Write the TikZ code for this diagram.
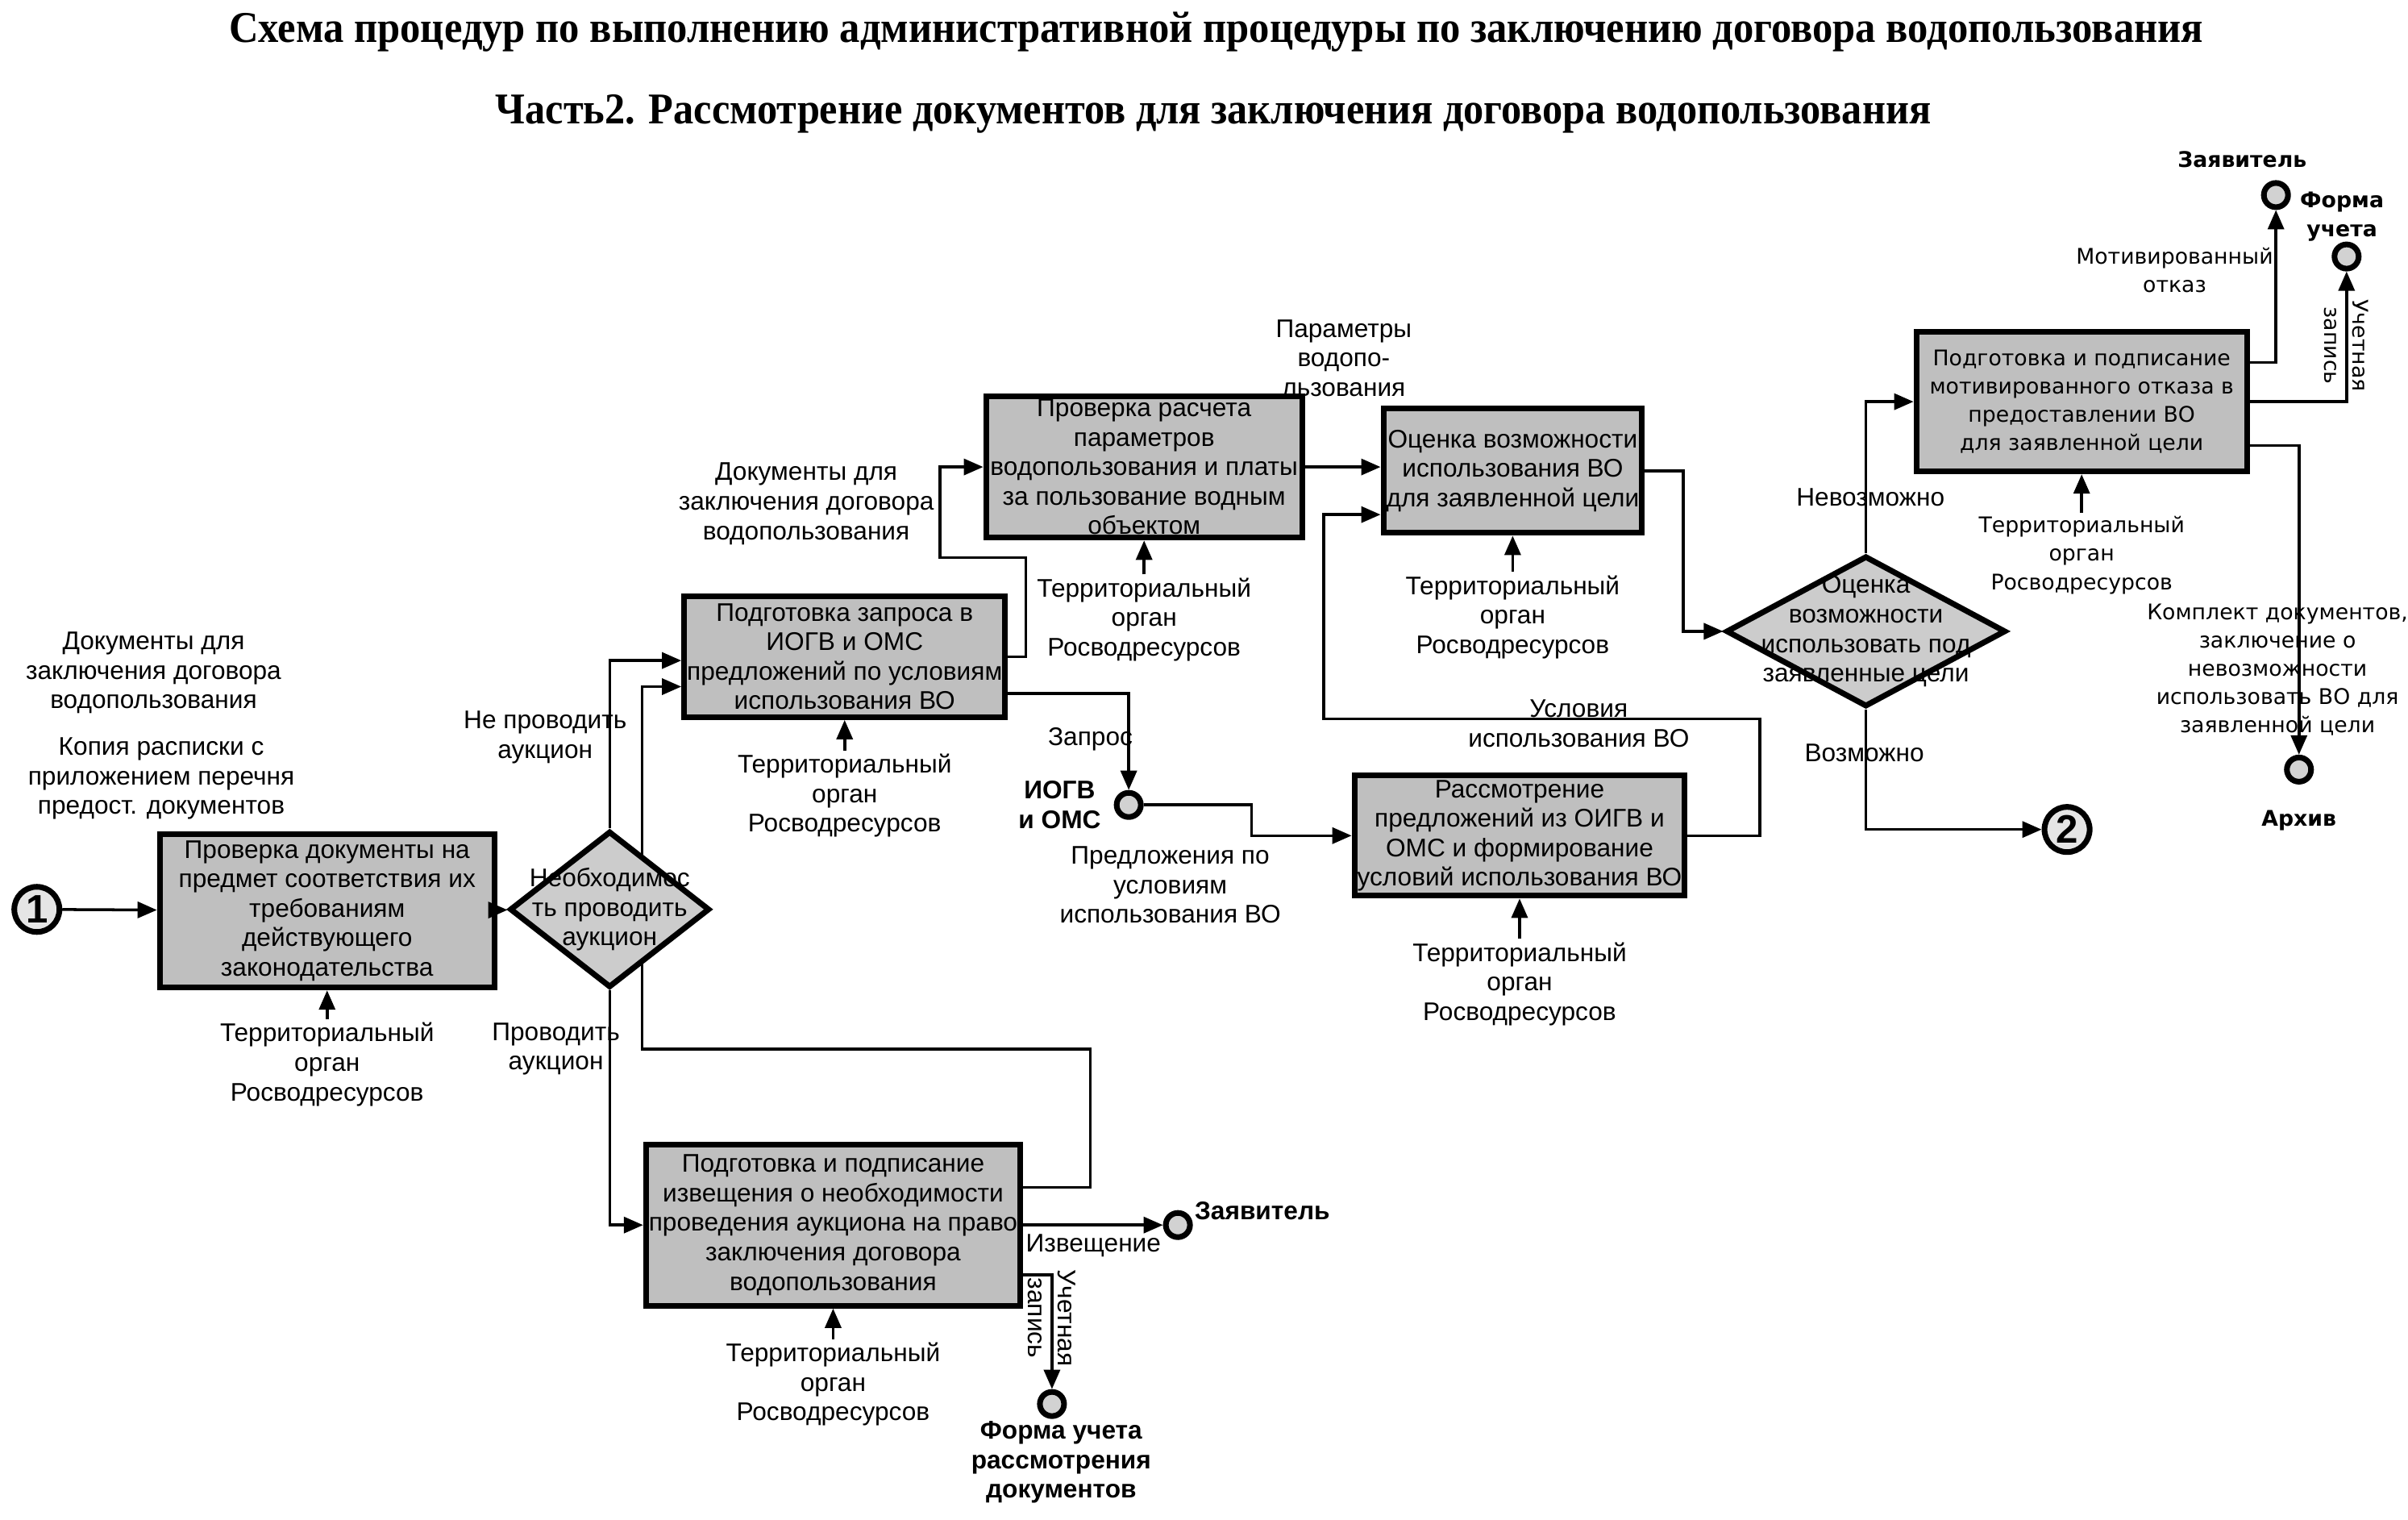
\documentclass[tikz,border=0pt]{standalone}
\usepackage{fontspec}
\setmainfont{Liberation Sans}
\newfontfamily\titlefont{Liberation Serif}
\newfontfamily\widefont{DejaVu Sans}
\usetikzlibrary{shapes.geometric, arrows.meta, positioning, calc, backgrounds}

\begin{document}
\begin{tikzpicture}[
    x=0.01905cm, y=-0.01905cm,
    node distance = 0.38cm,
    box/.style = {rectangle, draw=black, line width=2pt, fill=gray!50, align=center, inner sep=1pt, font=\fontsize{9}{10.4}\selectfont},
    wbox/.style = {box, font=\widefont\fontsize{7.6}{10}\selectfont},
    dia/.style = {diamond, draw=black, line width=2pt, fill=gray!40, inner sep=0pt},
    term/.style = {circle, draw=black, line width=2pt, fill=gray!20, minimum size=0.56cm, inner sep=0pt, font=\bfseries\fontsize{14}{14}\selectfont},
    endp/.style = {circle, draw=black, line width=2pt, fill=gray!35, minimum size=0.3cm, inner sep=0pt},
    lbl/.style = {align=center, inner sep=1pt, font=\fontsize{9}{10.4}\selectfont},
    blbl/.style = {lbl, font=\bfseries\fontsize{9}{10.4}\selectfont},
    wlbl/.style = {lbl, font=\widefont\fontsize{7.6}{10}\selectfont},
    wblbl/.style = {lbl, font=\widefont\bfseries\fontsize{7.6}{10}\selectfont},
    arr/.style = {-{Triangle[length=0.24cm, width=0.2cm]}, line width=1pt}
]
    \useasboundingbox (0,0) rectangle (1568,989);

    % 1. Titles
    \node (title) at (792,21) {\resizebox{24.48cm}{\height}{\titlefont\bfseries\fontsize{15.5}{17}\selectfont Схема процедур по выполнению административной процедуры по заключению договора водопользования}};
    \node (subtitle) at (790,74) {\resizebox{17.8cm}{\height}{\titlefont\bfseries\fontsize{15.5}{17}\selectfont Часть2. Рассмотрение документов для заключения договора водопользования}};

    % 2. Process boxes
    \node [term] (start) at (24,592) {1};
    \node [box, minimum width=4.15cm, minimum height=1.9cm] (check) at (213,593) {Проверка документы на\\предмет соответствия их\\требованиям\\действующего\\законодательства};
    \node [dia, minimum width=2.48cm, minimum height=1.94cm] (auct_q) at (397,592) {};
    \node [lbl] (auct_q_txt) at (auct_q) {Необходимос\\ть проводить\\аукцион};
    \node [box, minimum width=3.89cm, minimum height=1.5cm] (request) at (550,427.5) {Подготовка запроса в\\ИОГВ и ОМС\\предложений по условиям\\использования ВО};
    \node [box, minimum width=3.92cm, minimum height=1.75cm] (calc) at (745,304) {Проверка расчета\\параметров\\водопользования и платы\\за пользование водным\\объектом};
    \node [box, minimum width=3.16cm, minimum height=1.54cm] (assess) at (985,306.5) {Оценка возможности\\использования ВО\\для заявленной цели};
    \node [box, minimum width=3.98cm, minimum height=1.49cm] (proposals) at (989.5,544) {Рассмотрение\\предложений из ОИГВ и\\ОМС и формирование\\условий использования ВО};
    \node [box, minimum width=4.48cm, minimum height=2cm] (notice) at (542.5,797.5) {Подготовка и подписание\\извещения о необходимости\\проведения аукциона на право\\заключения договора\\водопользования};
    \node [dia, minimum width=3.47cm, minimum height=1.87cm] (use_q) at (1215,411) {};
    \node [lbl] (use_q_txt) at (use_q) {Оценка\\возможности\\использовать под\\заявленные цели};
    \node [wbox, minimum width=4.1cm, minimum height=1.73cm] (refusal) at (1355.5,261.5) {Подготовка и подписание\\мотивированного отказа в\\предоставлении ВО\\для заявленной цели};
    \node [term] (finish) at (1346,540) {2};

    % 3. End points
    \node [endp] (iogv) at (735,524) {};
    \node [endp] (appl_a) at (767,797.5) {};
    \node [endp] (form_a) at (685,914) {};
    \node [endp] (appl_b) at (1482,127) {};
    \node [endp] (form_b) at (1528,167) {};
    \node [endp] (archive) at (1497,501) {};

    % 4. Responsible body
    \node [lbl, below=0.36cm of check] (check_org) {Территориальный\\орган\\Росводресурсов};
    \node [lbl, below=0.38cm of request] (request_org) {Территориальный\\орган\\Росводресурсов};
    \node [lbl, below=0.42cm of calc] (calc_org) {Территориальный\\орган\\Росводресурсов};
    \node [lbl, below=0.45cm of assess] (assess_org) {Территориальный\\орган\\Росводресурсов};
    \node [lbl, below=0.5cm of proposals] (proposals_org) {Территориальный\\орган\\Росводресурсов};
    \node [lbl, below=0.38cm of notice] (notice_org) {Территориальный\\орган\\Росводресурсов};
    \node [wlbl, below=0.48cm of refusal] (refusal_org) {Территориальный\\орган\\Росводресурсов};
    \foreach \n in {check, request, calc, assess, proposals, notice, refusal}
        \draw [arr] (\n_org) -- (\n);

    % 5. Flow labels
    \node [lbl] (in_docs) at (100,438) {Документы для\\заключения договора\\водопользования};
    \node [lbl] (in_copy) at (105,507) {Копия расписки с\\приложением перечня\\предост. документов};
    \node [lbl] (no_auct) at (355,480) {Не проводить\\аукцион};
    \node [lbl] (yes_auct) at (362,683) {Проводить\\аукцион};
    \node [lbl] (docs_lbl) at (525,328) {Документы для\\заключения договора\\водопользования};
    \node [lbl] (param_lbl) at (875,233) {Параметры\\водопо-\\льзования};
    \node [lbl] (req_lbl) at (710,481) {Запрос};
    \node [blbl] (iogv_lbl) at (690,524) {ИОГВ\\и ОМС};
    \node [lbl] (offer_lbl) at (762,576) {Предложения по\\условиям\\использования ВО};
    \node [lbl] (cond_lbl) at (1028,471) {Условия\\использования ВО};
    \node [lbl] (impos_lbl) at (1218,324) {Невозможно};
    \node [lbl] (pos_lbl) at (1214,490) {Возможно};
    \node [wlbl] (motiv_lbl) at (1416,176) {Мотивированный\\отказ};
    \node [wblbl] (appl_b_lbl) at (1460,104) {Заявитель};
    \node [wblbl] (form_b_lbl) at (1525,141) {Форма\\учета};
    \node [wlbl, rotate=-90] (rec_b_lbl) at (1528,225) {Учетная\\запись};
    \node [wlbl] (set_lbl) at (1483,436) {Комплект документов,\\заключение о\\невозможности\\использовать ВО для\\заявленной цели};
    \node [wblbl] (archive_lbl) at (1497,534) {Архив};
    \node [blbl] (appl_a_lbl) at (822,788) {Заявитель};
    \node [lbl] (notice_lbl) at (712,811) {Извещение};
    \node [lbl, rotate=-90] (rec_a_lbl) at (685,858) {Учетная\\запись};
    \node [blbl] (form_a_lbl) at (691,952) {Форма учета\\рассмотрения\\документов};

    % 6. Connections
    \coordinate (loop_a) at (710,683);
    \coordinate (loop_b) at (418,683);
    \coordinate (doc_a) at (668,363);
    \coordinate (doc_b) at (612,363);
    \coordinate (offer_a) at (815,524);
    \coordinate (cond_a) at (1146,468);
    \coordinate (cond_b) at (862,468);

    \draw [arr] (start) -- (check);
    \draw [arr] (check) -- (auct_q);
    \draw [arr] (auct_q.north) |- ($(request.west)+(0,2.5)$);
    \draw [arr] (auct_q.south) |- (notice.west);
    \begin{scope}[on background layer]
        \draw [arr] ($(notice.east)+(0,-24.5)$) -| (loop_a) -- (loop_b) |- ($(request.west)+(0,19.5)$);
    \end{scope}
    \draw [arr] (request.east) -| (doc_a) -- (doc_b) |- (calc.west);
    \draw [arr] ($(request.east)+(0,24)$) -| (iogv.north);
    \draw [arr] (iogv.east) -- (offer_a) |- (proposals.west);
    \draw [arr] (calc.east) -- (calc.east -| assess.west);
    \draw [arr] (proposals.east) -| (cond_a) -- (cond_b) |- ($(assess.west)+(0,28.5)$);
    \draw [arr] (assess.east) -| ($(use_q.west)+(-26,0)$) -- (use_q.west);
    \draw [arr] (use_q.north) |- (refusal.west);
    \draw [arr] (use_q.south) |- (finish.west);
    \draw [arr] ($(refusal.east)+(0,-25.5)$) -| (appl_b.south);
    \draw [arr] (refusal.east) -| (form_b.south);
    \draw [arr] ($(refusal.east)+(0,28.5)$) -| (archive.north);
    \draw [arr] (notice.east) -- (appl_a.west);
    \draw [arr] ($(notice.east)+(0,32.5)$) -| (form_a.north);

\end{tikzpicture}
\end{document}
